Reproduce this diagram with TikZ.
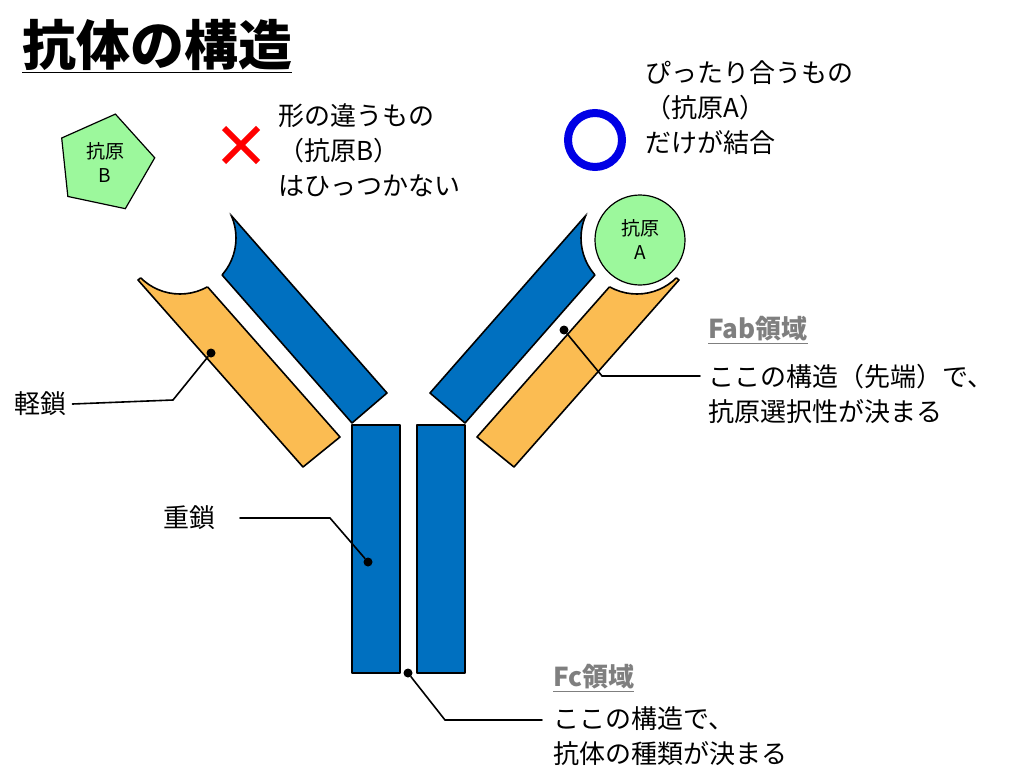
\documentclass[tikz,border=0pt]{standalone}
\usepackage{fontspec}
\setmainfont{Noto Sans CJK JP}
\usetikzlibrary{shapes.geometric}
\definecolor{hcblue}{HTML}{0070C0}
\definecolor{lcorange}{HTML}{FBBC52}
\definecolor{aggreen}{HTML}{9CF89C}
\definecolor{lblgray}{HTML}{7F7F7F}
\tikzset{
  chain/.style={draw=black,line width=1.6pt,line join=round},
  leader/.style={line width=1.6pt},
  dot/.style={circle,fill=black,inner sep=0pt,minimum size=9pt},
  txt/.style={anchor=west,inner sep=0pt,font=\fontsize{26}{35}\selectfont,align=left},
  glbl/.style={anchor=west,inner sep=0pt,font=\fontsize{26}{35}\selectfont\bfseries,text=lblgray}
}
\begin{document}
\begin{tikzpicture}[x=1pt,y=-1pt,line cap=round]
\useasboundingbox (0,0) rectangle (1024,781);

% title
\node[anchor=west,inner sep=0pt,font=\fontsize{54}{60}\selectfont\bfseries] (title) at (22,46) {\underline{抗体の構造}};

% arms (left, then mirrored right)
\foreach \xs/\xo in {1/0,-1/817}{
\begin{scope}[xshift=\xo,xscale=\xs]
\begin{scope}[even odd rule]
\clip (-50,-50) rectangle (1100,900) (180,238) circle (56);
\draw[chain,fill=hcblue] (222,205) -- (387,393) -- (352,423) -- (187,235) -- cycle;
\draw[chain,fill=lcorange] (138,280) -- (303,467) -- (340,437) -- (175,250) -- cycle;
\end{scope}
\begin{scope}
\clip (222,205) -- (387,393) -- (352,423) -- (187,235) -- cycle
      (138,280) -- (303,467) -- (340,437) -- (175,250) -- cycle;
\draw[chain] (180,238) circle (56);
\end{scope}
\end{scope}
}

% heavy chains (stem)
\draw[chain,fill=hcblue] (352,425) rectangle (400,673);
\draw[chain,fill=hcblue] (417,425) rectangle (465,673);

% antigens
\node[regular polygon,regular polygon sides=5,draw,line width=1.2pt,fill=aggreen,minimum size=100pt,rotate=-12,inner sep=0pt] (agB) at (105,163) {};
\node[font=\fontsize{19}{24}\selectfont,align=center] at (agB) {抗原\\B};
\node[circle,draw,line width=1.2pt,fill=aggreen,minimum size=90pt,inner sep=0pt,font=\fontsize{19}{24}\selectfont,align=center] (agA) at (640,240) {抗原\\A};

% symbols
\draw[red,line width=6pt,line cap=butt] (224,128) -- (258,162) (258,128) -- (224,162);
\draw[blue!90!black,line width=8pt] (595,140) circle (27);

% texts
\node[txt] (ngtxt) at (278,150) {形の違うもの\\（抗原B）\\はひっつかない};
\node[txt] (oktxt) at (645,108) {ぴったり合うもの\\（抗原A）\\だけが結合};
\node[txt] (lctxt) at (14,404) {軽鎖};
\node[txt] (hctxt) at (163,518) {重鎖};
\node[glbl] (fablbl) at (708,330) {\underline{Fab領域}};
\node[txt] (fabtxt) at (708,394) {ここの構造（先端）で、\\抗原選択性が決まる};
\node[glbl] (fclbl) at (553,678) {\underline{Fc領域}};
\node[txt] (fctxt) at (553,736) {ここの構造で、\\抗体の種類が決まる};

% leaders
\node[dot] (lcdot) at (211,353) {};
\node[dot] (hcdot) at (368,562) {};
\node[dot] (fabdot) at (564,330) {};
\node[dot] (fcdot) at (408,673) {};
\draw[leader] (lctxt.east) ++(6,0) coordinate (lcend) -- (173,400) -- (lcdot);
\draw[leader] (240,518) -- (330,518) -- (hcdot);
\draw[leader] (fabdot) -- (602,376) -- (700,376);
\draw[leader] (fcdot) -- (445,720) -- (542,720);
\end{tikzpicture}
\end{document}
